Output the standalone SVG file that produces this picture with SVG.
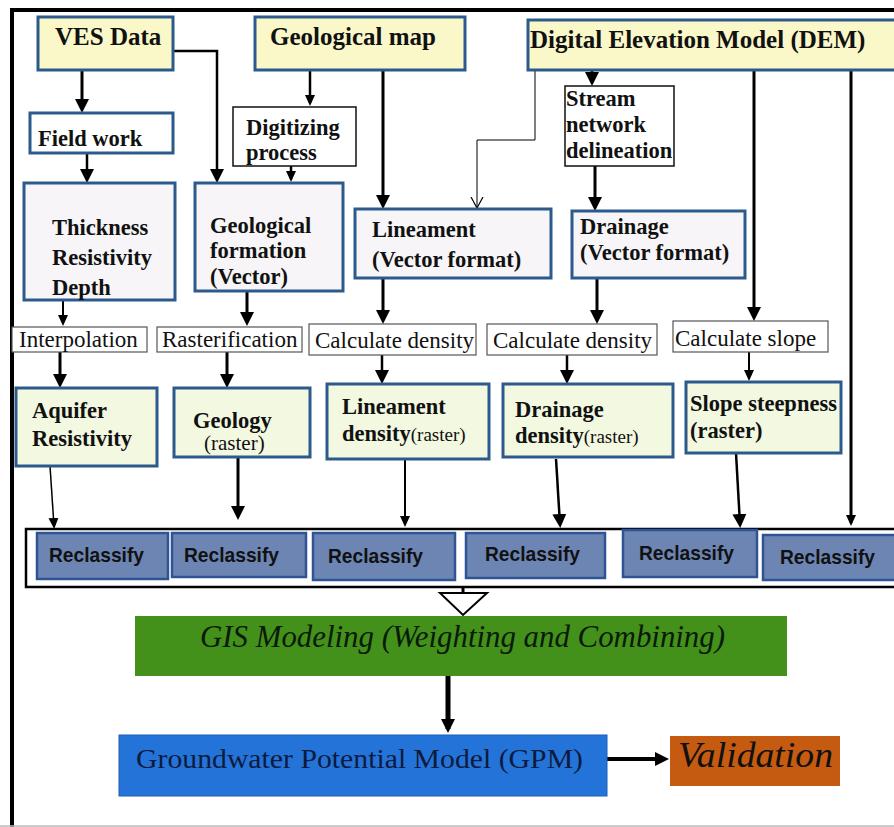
<svg xmlns="http://www.w3.org/2000/svg" width="894" height="827" viewBox="0 0 894 827">
<style>
.y{fill:#faf8c8;stroke:#2c5a8c;stroke-width:3}
.p{fill:#f7f5f7;stroke:#2c5a8c;stroke-width:3}
.w{fill:#ffffff;stroke:#2c5a8c;stroke-width:3}
.g{fill:#f3f8e1;stroke:#2c5a8c;stroke-width:3}
.k{fill:#ffffff;stroke:#111;stroke-width:1.5}
.l{fill:#ffffff;stroke:#555;stroke-width:1.2}
.r{fill:#6d85b3;stroke:#2f5496;stroke-width:2.5}
.b{font-family:"Liberation Serif",serif;font-weight:bold;font-size:22.5px;fill:#111}
.t{font-family:"Liberation Serif",serif;font-weight:bold;font-size:25px;fill:#111}
.n{font-family:"Liberation Serif",serif;font-size:23px;fill:#111}
.s{font-family:"Liberation Serif",serif;font-weight:normal}
.rc{font-family:"Liberation Sans",Arial,sans-serif;font-weight:bold;font-size:21px;fill:#111}
.c{fill:none;stroke:#000}
</style>
<defs>
<marker id="ah" markerUnits="userSpaceOnUse" markerWidth="14" markerHeight="16" viewBox="0 0 14 16" refX="10" refY="8" orient="auto"><path d="M0,1 L14,8 L0,15 Z" fill="#000"/></marker>
<marker id="as" markerUnits="userSpaceOnUse" markerWidth="11" markerHeight="12" viewBox="0 0 11 12" refX="8" refY="6" orient="auto"><path d="M0,1 L11,6 L0,11 Z" fill="#000"/></marker>
<marker id="av" markerUnits="userSpaceOnUse" markerWidth="12" markerHeight="14" viewBox="0 0 12 14" refX="11" refY="7" orient="auto"><path d="M0,1 L11,7 L0,13" fill="none" stroke="#000" stroke-width="1.2"/></marker>
</defs>
<rect x="0" y="0" width="894" height="827" fill="#fff"/>
<path d="M12,827 V10 H894" fill="none" stroke="#000" stroke-width="4"/>
<path d="M0,826 H894" stroke="#bbb" stroke-width="1.5"/>

<g id="connectors">
<path class="c" stroke-width="3" d="M82,70 V109" marker-end="url(#ah)"/>
<path class="c" stroke-width="2.5" d="M173,51 H217 V179" marker-end="url(#ah)"/>
<path class="c" stroke-width="2.5" d="M87,153 V179" marker-end="url(#ah)"/>
<path class="c" stroke-width="2.5" d="M310,70 V103" marker-end="url(#as)"/>
<path class="c" stroke-width="2.5" d="M291,166 V179" marker-end="url(#as)"/>
<path class="c" stroke-width="3" d="M383,70 V205" marker-end="url(#ah)"/>
<path class="c" stroke-width="1" d="M535,70 V140 H477 V208" marker-end="url(#av)"/>
<path class="c" stroke-width="3" d="M592,70 V82" marker-end="url(#ah)"/>
<path class="c" stroke-width="3" d="M595,166 V207" marker-end="url(#ah)"/>
<path class="c" stroke-width="3" d="M754,70 V317" marker-end="url(#ah)"/>
<path class="c" stroke-width="3" d="M851,70 V523" marker-end="url(#as)"/>
<path class="c" stroke-width="2" d="M63,300 V323" marker-end="url(#as)"/>
<path class="c" stroke-width="3" d="M247,291 V322" marker-end="url(#ah)"/>
<path class="c" stroke-width="3" d="M383,278 V320" marker-end="url(#ah)"/>
<path class="c" stroke-width="3" d="M597,278 V320" marker-end="url(#ah)"/>
<path class="c" stroke-width="3" d="M60,352 V384" marker-end="url(#ah)"/>
<path class="c" stroke-width="3" d="M227,352 V384" marker-end="url(#ah)"/>
<path class="c" stroke-width="2.5" d="M382,355 V380" marker-end="url(#ah)"/>
<path class="c" stroke-width="2.5" d="M567,355 V380" marker-end="url(#ah)"/>
<path class="c" stroke-width="2" d="M749,352 V378" marker-end="url(#as)"/>
<path class="c" stroke-width="1.5" d="M50,466 L54,526" marker-end="url(#as)"/>
<path class="c" stroke-width="3" d="M238,457 V516" marker-end="url(#ah)"/>
<path class="c" stroke-width="2" d="M405,459 V524" marker-end="url(#as)"/>
<path class="c" stroke-width="2.5" d="M556,459 L560,524" marker-end="url(#ah)"/>
<path class="c" stroke-width="2.5" d="M736,453 L740,524" marker-end="url(#ah)"/>
<path class="c" stroke-width="3" d="M463,587 V593"/>
<polygon points="440,593 487,593 463,615" fill="#fff" stroke="#000" stroke-width="2"/>
<path class="c" stroke-width="5" d="M448,676 V729" marker-end="url(#ah)"/>
<path class="c" stroke-width="4" d="M607,759 H665" marker-end="url(#ah)"/>
</g>

<g id="ves"><rect class="y" x="38" y="17" width="135" height="53"/><text class="t" x="55" y="45">VES Data</text></g>
<g id="geomap"><rect class="y" x="255" y="17" width="210" height="53"/><text class="t" x="270" y="45">Geological map</text></g>
<g id="dem"><rect class="y" x="528" y="20" width="380" height="50"/><text class="t" x="530" y="48">Digital Elevation Model (DEM)</text></g>
<g id="fieldwork"><rect class="w" x="30" y="113" width="143" height="40"/><text class="b" x="38" y="146">Field work</text></g>
<g id="digitizing"><rect class="k" x="233" y="107" width="123" height="59"/><text class="b" x="246" y="135">Digitizing</text><text class="b" x="246" y="160">process</text></g>
<g id="stream"><rect class="k" x="565" y="86" width="109" height="80"/><text class="b" x="566" y="106">Stream</text><text class="b" x="566" y="132">network</text><text class="b" x="566" y="158">delineation</text></g>
<g id="thickness"><rect class="p" x="24" y="183" width="151" height="117"/><text class="b" x="52" y="235">Thickness</text><text class="b" x="52" y="265">Resistivity</text><text class="b" x="52" y="295">Depth</text></g>
<g id="geoformation"><rect class="p" x="195" y="183" width="148" height="108"/><text class="b" x="210" y="233">Geological</text><text class="b" x="210" y="258">formation</text><text class="b" x="210" y="284">(Vector)</text></g>
<g id="lineament"><rect class="p" x="355" y="209" width="196" height="69"/><text class="b" x="372" y="237">Lineament</text><text class="b" x="372" y="267">(Vector format)</text></g>
<g id="drainage"><rect class="p" x="572" y="211" width="173" height="67"/><text class="b" x="580" y="234">Drainage</text><text class="b" x="580" y="260">(Vector format)</text></g>
<g id="interpolation"><rect class="l" x="12" y="327" width="135" height="25"/><text class="n" x="19" y="347">Interpolation</text></g>
<g id="rasterification"><rect class="l" x="157" y="327" width="145" height="25"/><text class="n" x="162" y="347">Rasterification</text></g>
<g id="calcdensity1"><rect class="l" x="309" y="324" width="167" height="31"/><text class="n" x="315" y="348">Calculate density</text></g>
<g id="calcdensity2"><rect class="l" x="487" y="324" width="170" height="31"/><text class="n" x="493" y="348">Calculate density</text></g>
<g id="calcslope"><rect class="l" x="673" y="321" width="155" height="31"/><text class="n" x="675" y="346">Calculate slope</text></g>
<g id="aquifer"><rect class="g" x="16" y="388" width="141" height="78"/><text class="b" x="32" y="418">Aquifer</text><text class="b" x="32" y="446">Resistivity</text></g>
<g id="geology"><rect class="g" x="174" y="388" width="136" height="69"/><text class="b" x="193" y="428">Geology</text><text class="n" x="204" y="450" style="font-size:21px">(raster)</text></g>
<g id="lindensity"><rect class="g" x="327" y="384" width="162" height="75"/><text class="b" x="342" y="414">Lineament</text><text class="b" x="342" y="441">density<tspan class="s" style="font-size:19px">(raster)</tspan></text></g>
<g id="draindensity"><rect class="g" x="503" y="384" width="170" height="73"/><text class="b" x="515" y="417">Drainage</text><text class="b" x="515" y="443">density<tspan class="s" style="font-size:19px">(raster)</tspan></text></g>
<g id="slope"><rect class="g" x="686" y="382" width="155" height="71"/><text class="b" x="690" y="411">Slope steepness</text><text class="b" x="690" y="438">(raster)</text></g>

<g id="reclassify">
<rect x="26" y="529" width="880" height="58" fill="#fff" stroke="#000" stroke-width="2.5"/>
<rect class="r" x="37" y="533" width="131" height="46"/><text class="rc" x="49" y="562" textLength="95" lengthAdjust="spacingAndGlyphs">Reclassify</text>
<rect class="r" x="172" y="533" width="134" height="44"/><text class="rc" x="184" y="562" textLength="95" lengthAdjust="spacingAndGlyphs">Reclassify</text>
<rect class="r" x="313" y="533" width="142" height="47"/><text class="rc" x="328" y="563" textLength="95" lengthAdjust="spacingAndGlyphs">Reclassify</text>
<rect class="r" x="466" y="533" width="139" height="45"/><text class="rc" x="485" y="561" textLength="95" lengthAdjust="spacingAndGlyphs">Reclassify</text>
<rect class="r" x="623" y="530" width="134" height="47"/><text class="rc" x="639" y="560" textLength="95" lengthAdjust="spacingAndGlyphs">Reclassify</text>
<rect class="r" x="763" y="535" width="140" height="45"/><text class="rc" x="780" y="564" textLength="95" lengthAdjust="spacingAndGlyphs">Reclassify</text>
</g>

<g id="gis"><rect x="135" y="616" width="652" height="60" fill="#43901b"/><text x="200" y="647" textLength="525" lengthAdjust="spacingAndGlyphs" style="font-family:'Liberation Serif',serif;font-style:italic;font-size:32px;fill:#0a1a0a">GIS Modeling (Weighting and Combining)</text></g>
<g id="gpm"><rect x="119" y="735" width="488" height="61" fill="#2473d9" stroke="#1d5fb8" stroke-width="1"/><text x="136" y="768" textLength="447" lengthAdjust="spacingAndGlyphs" style="font-family:'Liberation Serif',serif;font-size:28px;fill:#0d1b3e">Groundwater Potential Model (GPM)</text></g>
<g id="validation"><rect x="670" y="736" width="170" height="50" fill="#c55a11"/><text x="678" y="767" textLength="155" lengthAdjust="spacingAndGlyphs" style="font-family:'Liberation Serif',serif;font-style:italic;font-size:35px;fill:#111">Validation</text></g>
</svg>
